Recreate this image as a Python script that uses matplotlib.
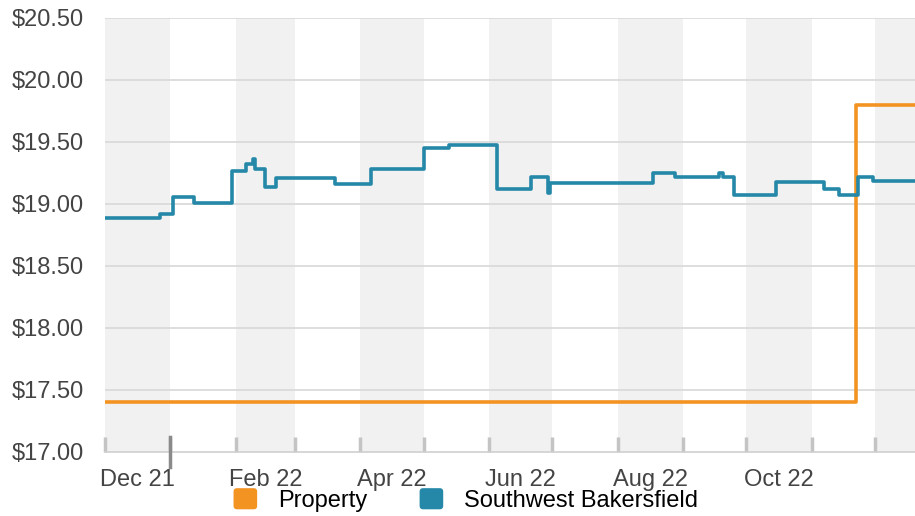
import matplotlib
matplotlib.use("Agg")
import matplotlib.pyplot as plt
import matplotlib.dates as mdates
from matplotlib.patches import FancyBboxPatch
from matplotlib.legend_handler import HandlerPatch
from matplotlib.patches import Patch
import pandas as pd

# chart values
swb_dates = ["2021-12-01", "2021-12-27", "2022-01-02", "2022-01-12", "2022-01-30",
             "2022-02-06", "2022-02-09", "2022-02-10", "2022-02-15", "2022-02-20",
             "2022-03-20", "2022-04-06", "2022-05-01", "2022-05-13", "2022-06-05",
             "2022-06-21", "2022-06-29", "2022-06-30", "2022-08-18", "2022-08-28",
             "2022-09-18", "2022-09-20", "2022-09-25", "2022-10-15", "2022-11-07",
             "2022-11-14", "2022-11-23", "2022-11-30", "2022-12-20"]
swb_values = [18.89, 18.92, 19.06, 19.01, 19.27,
              19.32, 19.36, 19.28, 19.14, 19.21,
              19.16, 19.28, 19.45, 19.475, 19.12,
              19.22, 19.09, 19.17, 19.25, 19.22,
              19.25, 19.22, 19.07, 19.175, 19.12,
              19.07, 19.22, 19.185, 19.185]
prop_dates = ["2021-12-01", "2022-11-22", "2022-12-20"]
prop_values = [17.40, 19.80, 19.80]

month_starts = pd.date_range("2021-12-01", "2022-12-01", freq="MS")
label_months = ["Dec 21", "Feb 22", "Apr 22", "Jun 22", "Aug 22", "Oct 22"]
yticks = [17.0, 17.5, 18.0, 18.5, 19.0, 19.5, 20.0, 20.5]

ORANGE = "#F39322"
BLUE = "#2588A8"
plt.rcParams["font.family"] = ["Liberation Sans", "DejaVu Sans"]


class RoundSquare(HandlerPatch):
    # legend swatch with slightly rounded corners
    def create_artists(self, legend, orig_handle, xdescent, ydescent, width, height, fontsize, trans):
        p = FancyBboxPatch((-xdescent, -ydescent), width, height,
                           boxstyle="round,pad=0,rounding_size=2.5",
                           facecolor=orig_handle.get_facecolor(), edgecolor="none", transform=trans)
        return [p]


fig = plt.figure(figsize=(9.15, 5.16), dpi=100)
ax = fig.add_axes([105 / 915, 64 / 516, 810 / 915, 434 / 516])

x_start = pd.Timestamp("2021-12-01")
x_end = pd.Timestamp("2022-12-20")

# alternating month bands
for i, m in enumerate(month_starts):
    if i % 2 == 0:
        nxt = m + pd.offsets.MonthBegin(1)
        ax.axvspan(m, min(nxt, x_end), color="#F1F1F1", zorder=0, lw=0)

for y in yticks[1:]:
    ax.axhline(y, color="#D8D8D8", lw=1.2, zorder=1)

ax.step(pd.to_datetime(prop_dates), prop_values, where="post", color=ORANGE, lw=2.6, zorder=3)
ax.step(pd.to_datetime(swb_dates), swb_values, where="post", color=BLUE, lw=2.6, zorder=4)

ax.set_xlim(x_start, x_end)
ax.set_ylim(17.0, 20.5)

for s in ["top", "right", "left"]:
    ax.spines[s].set_visible(False)
ax.spines["bottom"].set_color("#D0D0D0")
ax.spines["bottom"].set_linewidth(1.2)

ax.set_yticks(yticks)
ax.set_yticklabels([f"${v:.2f}" for v in yticks])
ax.tick_params(axis="y", length=0, pad=15, labelsize=17, labelcolor="#444444")

# month boundary ticks, labels centred in every other month
ax.set_xticks(month_starts)
ax.set_xticklabels([])
ax.tick_params(axis="x", which="major", direction="in", length=11, width=2.5, color="#C4C4C4")
mids = [m + (m + pd.offsets.MonthBegin(1) - m) / 2 for m in month_starts[::2][:6]]
ax.set_xticks(mids, minor=True)
ax.set_xticklabels(label_months, minor=True)
ax.tick_params(axis="x", which="minor", length=0, pad=12, labelsize=17, labelcolor="#444444")

# year marker
trans = ax.get_xaxis_transform()
jan = mdates.date2num(pd.Timestamp("2022-01-01"))
ax.plot([jan, jan], [-0.035, 0.035], transform=trans, color="#8A8A8A", lw=2.5, clip_on=False, zorder=5)

handles = [Patch(facecolor=ORANGE, label="Property"),
           Patch(facecolor=BLUE, label="Southwest Bakersfield")]
fig.legend(handles=handles, loc="center", bbox_to_anchor=(466 / 915, 1 - 500 / 516), ncol=2,
           frameon=False, fontsize=17, handlelength=1.0, handleheight=1.0,
           handletextpad=0.9, columnspacing=2.2, borderpad=0,
           handler_map={Patch: RoundSquare()})

fig.savefig("out.png", dpi=100)
